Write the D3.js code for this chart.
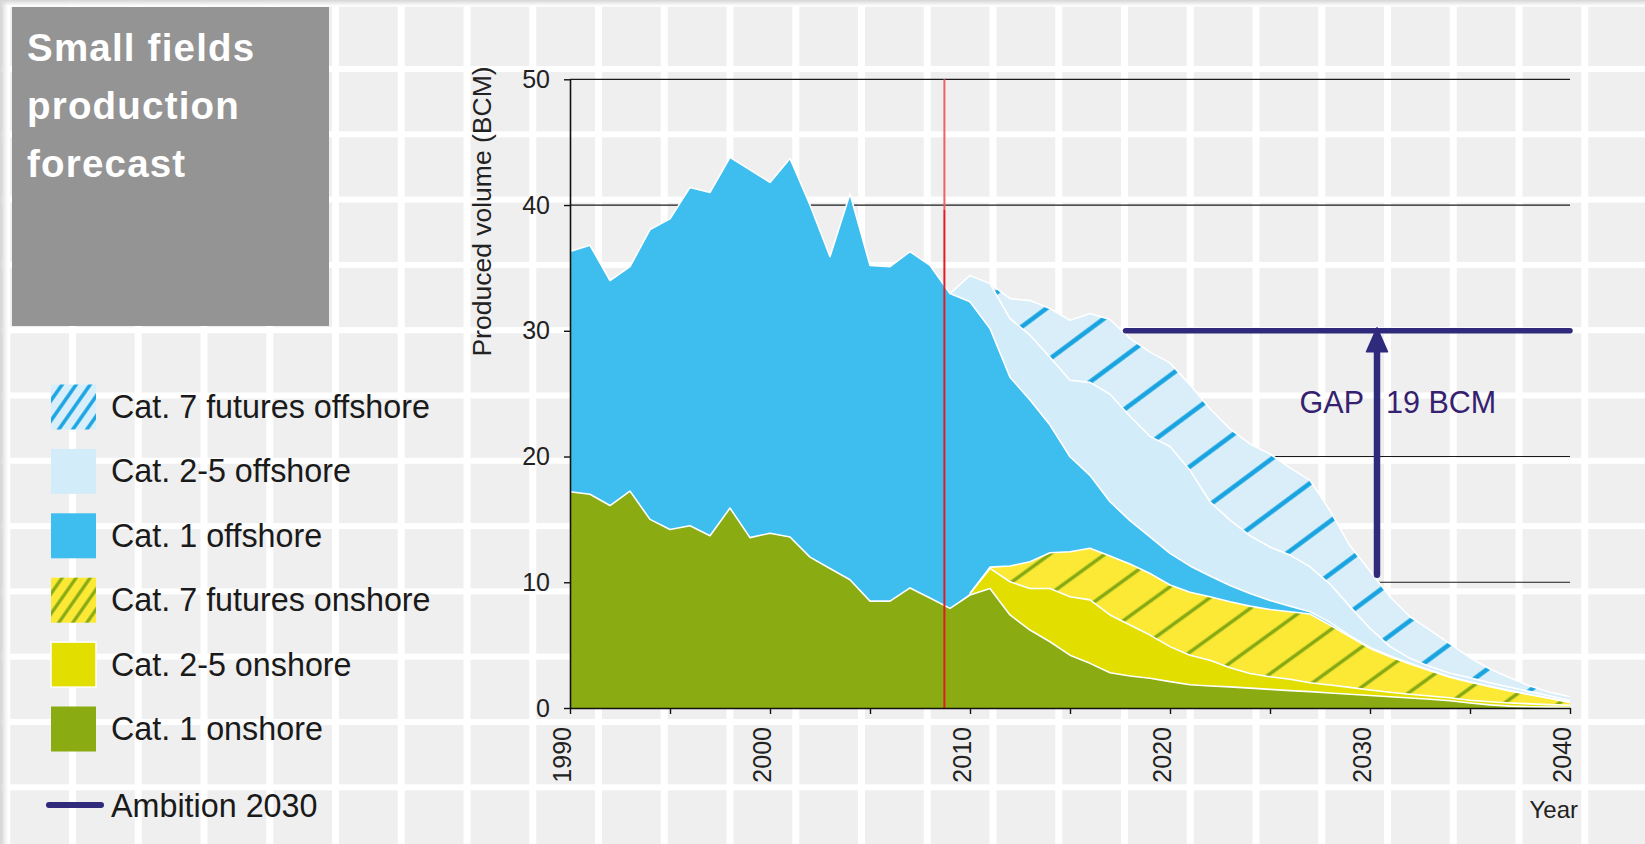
<!DOCTYPE html>
<html>
<head>
<meta charset="utf-8">
<script src="https://cdn.jsdelivr.net/npm/d3@7"></script>
<style>
  body { margin: 0; background: #fff; }
  svg { display: block; font-family: "Liberation Sans", Arial, Helvetica, sans-serif; }
</style>
</head>
<body>
<svg id="chart" width="1645" height="844"></svg>
<script>
// ---- data (BCM per year) ----
const years = d3.range(1990, 2041);

const cat1Onshore = [17.2, 17.0, 16.1, 17.25, 15.0, 14.2, 14.5, 13.7, 15.9, 13.55,
  13.9, 13.6, 12.0, 11.1, 10.2, 8.5, 8.5, 9.55, 8.75, 7.92,
  8.98, 9.5, 7.4, 6.2, 5.27, 4.2, 3.55, 2.8, 2.54, 2.36,
  2.1, 1.85, 1.75, 1.68, 1.58, 1.48, 1.38, 1.3, 1.19, 1.09,
  1.0, 0.9, 0.8, 0.69, 0.58, 0.4, 0.25, 0.15, 0.1, 0.07, 0.05];

const cat25Onshore = [null, null, null, null, null, null, null, null, null, null,
  null, null, null, null, null, null, null, null, null, null,
  0.12, 1.6, 2.64, 3.3, 4.23, 4.65, 5.05, 4.6, 4.06, 3.44,
  2.78, 2.35, 2.05, 1.52, 1.17, 1.01, 0.9, 0.71, 0.64, 0.55,
  0.43, 0.35, 0.29, 0.26, 0.24, 0.22, 0.25, 0.25, 0.23, 0.2, 0.17];

const cat7Onshore = [null, null, null, null, null, null, null, null, null, null,
  null, null, null, null, null, null, null, null, null, null,
  0, 0.1, 1.25, 2.13, 2.85, 3.58, 4.1, 4.68, 4.85, 4.9,
  4.9, 5.0, 5.05, 5.25, 5.35, 5.35, 5.38, 5.46, 4.77, 4.03,
  3.31, 2.83, 2.41, 2.02, 1.62, 1.43, 1.2, 0.95, 0.72, 0.48, 0.23];

const cat1Offshore = [19.1, 19.8, 17.9, 17.85, 23.05, 24.7, 26.9, 27.3, 27.9, 29.25,
  27.9, 30.1, 28.0, 24.8, 30.7, 26.7, 26.6, 26.75, 26.45, 25.04,
  23.2, 18.98, 15.01, 12.87, 10.15, 7.55, 5.8, 4.32, 3.45, 2.9,
  2.52, 2.1, 1.65, 1.3, 1.0, 0.71, 0.44, 0.18, 0.2, 0.08,
  0.08, 0.07, 0.06, 0.05, 0.05, 0.04, 0.03, 0.03, 0.03, 0.03, 0.03];

const cat25Offshore = [null, null, null, null, null, null, null, null, null, null,
  null, null, null, null, null, null, null, null, null, 0,
  2.1, 3.57, 4.67, 5.15, 5.4, 6.09, 7.4, 8.55, 8.3, 8.0,
  8.5, 7.6, 5.9, 5.19, 4.6, 4.25, 4.06, 3.58, 3.06, 2.31,
  1.51, 0.73, 0.39, 0.27, 0.27, 0.31, 0.27, 0.27, 0.22, 0.17, 0.12];

const cat7Offshore = [null, null, null, null, null, null, null, null, null, null,
  null, null, null, null, null, null, null, null, null, null,
  null, 0, 1.59, 2.75, 3.87, 4.77, 5.47, 5.95, 6.2, 6.7,
  6.65, 6.8, 7.4, 7.26, 7.3, 7.4, 6.94, 6.87, 5.84, 4.84,
  4.57, 3.97, 3.31, 2.91, 2.34, 1.6, 1.1, 0.75, 0.45, 0.3, 0.3];

const yTicks = [0, 10, 20, 30, 40, 50];
const gridValues = [10, 20, 30, 40, 50];
const xTicks = [1990, 1995, 2000, 2005, 2010, 2015, 2020, 2025, 2030, 2035, 2040];
const xTickLabels = [1990, 2000, 2010, 2020, 2030, 2040];

const forecastYear = 2008.72;   // red divider
const ambitionValue = 30;
const ambitionFromYear = 2017.78;
const gapYear = 2030.35;
const gapFromValue = 10.6;

const titleLines = ['Small fields', 'production', 'forecast'];

// stack order bottom -> top
const seriesKeys = ['cat1On', 'cat25On', 'cat7On', 'cat1Off', 'cat25Off', 'cat7Off'];
const seriesFill = {
  cat1On: '#8aab11', cat25On: '#e2df00', cat7On: 'url(#hatchOn)',
  cat1Off: '#3dbeee', cat25Off: '#d3ecf9', cat7Off: 'url(#hatchOff)'
};
const legendItems = [
  { label: 'Cat. 7 futures offshore', fill: 'url(#legHatchOff)' },
  { label: 'Cat. 2-5 offshore', fill: '#d3ecf9' },
  { label: 'Cat. 1 offshore', fill: '#3dbeee' },
  { label: 'Cat. 7 futures onshore', fill: 'url(#legHatchOn)' },
  { label: 'Cat. 2-5 onshore', fill: '#e2df00' },
  { label: 'Cat. 1 onshore', fill: '#8aab11' }
];

const table = years.map((year, i) => ({
  year,
  cat1On: cat1Onshore[i], cat25On: cat25Onshore[i], cat7On: cat7Onshore[i],
  cat1Off: cat1Offshore[i], cat25Off: cat25Offshore[i], cat7Off: cat7Offshore[i]
}));

// ---- setup ----
const W = 1645, H = 844;
const svg = d3.select('#chart');
const x = d3.scaleLinear().domain([1990, 2040]).range([570, 1570]);
const y = d3.scaleLinear().domain([0, 50]).range([708, 79.3]);
const ink = '#2f2a7c';

const defs = svg.append('defs');
function hatch(id, h, angle, offset, bg, stripe, sw) {
  const p = defs.append('pattern').attr('id', id)
    .attr('patternUnits', 'userSpaceOnUse')
    .attr('width', 20).attr('height', h)
    .attr('patternTransform', `rotate(${-angle}) translate(0,${offset})`);
  p.append('rect').attr('width', 20).attr('height', h).attr('fill', bg);
  p.append('rect').attr('y', h / 2 - sw / 2).attr('width', 20).attr('height', sw).attr('fill', stripe);
}
hatch('hatchOff', 42.5, 36.6, 0.25, '#daeefa', '#16a3e0', 4.5);
hatch('hatchOn', 32.3, 36, 15.75, '#fbe935', '#86a914', 3.5);
hatch('legHatchOff', 11.5, 55, 2, '#d8eefa', '#1ba4e2', 3.5);
hatch('legHatchOn', 11.5, 55, 2, '#fbe935', '#86a914', 3.2);

const shadeTop = defs.append('linearGradient').attr('id', 'shadeTop')
  .attr('x1', 0).attr('y1', 0).attr('x2', 0).attr('y2', 1);
shadeTop.append('stop').attr('offset', 0).attr('stop-color', '#d6d6d6');
shadeTop.append('stop').attr('offset', 1).attr('stop-color', '#d6d6d6').attr('stop-opacity', 0);
const shadeLeft = defs.append('linearGradient').attr('id', 'shadeLeft')
  .attr('x1', 0).attr('y1', 0).attr('x2', 1).attr('y2', 0);
shadeLeft.append('stop').attr('offset', 0).attr('stop-color', '#d6d6d6');
shadeLeft.append('stop').attr('offset', 1).attr('stop-color', '#d6d6d6').attr('stop-opacity', 0);

// ---- background tiles ----
svg.append('rect').attr('width', W).attr('height', H).attr('fill', '#efefef');
svg.append('g').selectAll('rect')
  .data(d3.range(-1, 25).map(k => 72.5 + k * 65.75))
  .join('rect')
  .attr('x', d => d - 3.5).attr('y', 0).attr('width', 7).attr('height', H).attr('fill', '#fff');
svg.append('g').selectAll('rect')
  .data(d3.range(-6, 8).map(k => 395.5 + k * 65.3))
  .join('rect')
  .attr('x', 0).attr('y', d => d - 3).attr('width', W).attr('height', 6).attr('fill', '#fff');
svg.append('rect').attr('width', W).attr('height', 6).attr('fill', 'url(#shadeTop)');
svg.append('rect').attr('width', 8).attr('height', H).attr('fill', 'url(#shadeLeft)');

// ---- title box ----
svg.append('rect').attr('x', 12).attr('y', 7).attr('width', 317).attr('height', 319).attr('fill', '#949494');
svg.append('g').selectAll('text')
  .data(titleLines)
  .join('text')
  .attr('x', 27).attr('y', (d, i) => 61 + i * 58)
  .attr('fill', '#fff').attr('font-weight', 'bold')
  .attr('font-size', 38.5).attr('letter-spacing', 1.2)
  .text(d => d);

// ---- gridlines (behind the areas) ----
svg.append('g').selectAll('line')
  .data(gridValues)
  .join('line')
  .attr('x1', x(1990)).attr('x2', x(2040))
  .attr('y1', d => y(d)).attr('y2', d => y(d))
  .attr('stroke', '#1a1a1a').attr('stroke-width', 1.2);

// ---- stacked areas ----
const stacked = d3.stack().keys(seriesKeys).value((d, k) => d[k] ?? 0)(table);
const area = d3.area()
  .x(d => x(d.data.year)).y0(d => y(d[0])).y1(d => y(d[1]));
const topLine = d3.line()
  .x(d => x(d.data.year)).y(d => y(d[1]));

const gAreas = svg.append('g');
stacked.forEach(s => {
  const has = d => d.data[s.key] != null;
  gAreas.append('path')
    .attr('d', area.defined(has)(s))
    .attr('fill', seriesFill[s.key]);
});
stacked.forEach(s => {
  const has = d => d.data[s.key] != null;
  gAreas.append('path')
    .attr('d', topLine.defined(has)(s))
    .attr('fill', 'none').attr('stroke', '#fff')
    .attr('stroke-width', 1.6).attr('stroke-linejoin', 'round');
});

// ---- forecast divider ----
svg.append('line')
  .attr('x1', x(forecastYear)).attr('x2', x(forecastYear))
  .attr('y1', y(50)).attr('y2', y(39.6))
  .attr('stroke', '#ee6166').attr('stroke-width', 2);
svg.append('line')
  .attr('x1', x(forecastYear)).attr('x2', x(forecastYear))
  .attr('y1', y(39.6)).attr('y2', y(0))
  .attr('stroke', '#e31b24').attr('stroke-width', 2);

// ---- axes ----
const yAxis = svg.append('g').attr('transform', `translate(${x(1990)},0)`)
  .call(d3.axisLeft(y).tickValues(yTicks).tickSize(6).tickSizeOuter(0).tickPadding(14));
yAxis.selectAll('text').attr('font-size', 25).attr('fill', '#222')
  .attr('font-family', '"Liberation Sans", Arial, sans-serif');

const xAxis = svg.append('g').attr('transform', `translate(0,${y(0)})`)
  .call(d3.axisBottom(x).tickValues(xTicks).tickSize(6).tickSizeOuter(0)
    .tickFormat(d => xTickLabels.includes(d) ? d : ''));
xAxis.selectAll('text')
  .attr('transform', 'rotate(-90)')
  .attr('x', -19).attr('y', 0).attr('dy', 0)
  .attr('text-anchor', 'end')
  .attr('font-size', 25).attr('fill', '#222')
  .attr('font-family', '"Liberation Sans", Arial, sans-serif');

[yAxis, xAxis].forEach(a => {
  a.select('.domain').attr('stroke', '#111').attr('stroke-width', 1.6);
  a.selectAll('.tick line').attr('stroke', '#111').attr('stroke-width', 1.4);
});

svg.append('text')
  .attr('transform', 'translate(491,211.5) rotate(-90)')
  .attr('text-anchor', 'middle').attr('font-size', 26.5).attr('fill', '#222')
  .text('Produced volume (BCM)');

svg.append('text')
  .attr('x', 1578).attr('y', 818).attr('text-anchor', 'end')
  .attr('font-size', 24).attr('fill', '#222')
  .text('Year');

// ---- ambition line and gap arrow ----
svg.append('line')
  .attr('x1', x(ambitionFromYear)).attr('x2', x(2040))
  .attr('y1', y(ambitionValue)).attr('y2', y(ambitionValue))
  .attr('stroke', ink).attr('stroke-width', 5.5).attr('stroke-linecap', 'round');

const ax = x(gapYear);
svg.append('line')
  .attr('x1', ax).attr('x2', ax)
  .attr('y1', y(gapFromValue)).attr('y2', y(ambitionValue) + 20)
  .attr('stroke', ink).attr('stroke-width', 6.5).attr('stroke-linecap', 'round');
svg.append('path')
  .attr('d', `M${ax},${y(ambitionValue) - 3} L${ax + 10.5},${y(ambitionValue) + 21} L${ax - 10.5},${y(ambitionValue) + 21} Z`)
  .attr('fill', ink).attr('stroke', ink).attr('stroke-width', 1.5).attr('stroke-linejoin', 'round');

svg.append('text')
  .attr('x', ax - 13).attr('y', 412.5).attr('text-anchor', 'end')
  .attr('font-size', 30.5).attr('fill', '#35216f')
  .text('GAP');
svg.append('text')
  .attr('x', ax + 9).attr('y', 412.5)
  .attr('font-size', 30.5).attr('fill', '#35216f')
  .text('19 BCM');

// ---- legend ----
const legend = svg.append('g');
const rows = legend.selectAll('g')
  .data(legendItems)
  .join('g')
  .attr('transform', (d, i) => `translate(51,${407 + i * 64.4})`);
rows.append('rect')
  .attr('x', 0).attr('y', -22.5).attr('width', 45).attr('height', 45)
  .attr('fill', d => d.fill)
  .attr('stroke', (d, i) => i === 4 ? '#fff' : 'none').attr('stroke-width', 1.5);
rows.append('text')
  .attr('x', 60).attr('y', 11)
  .attr('font-size', 32.3).attr('fill', '#1a1a1a')
  .text(d => d.label);

legend.append('line')
  .attr('x1', 49).attr('x2', 101).attr('y1', 805).attr('y2', 805)
  .attr('stroke', ink).attr('stroke-width', 6).attr('stroke-linecap', 'round');
legend.append('text')
  .attr('x', 111).attr('y', 817)
  .attr('font-size', 32.3).attr('fill', '#1a1a1a')
  .text('Ambition 2030');
</script>
</body>
</html>
